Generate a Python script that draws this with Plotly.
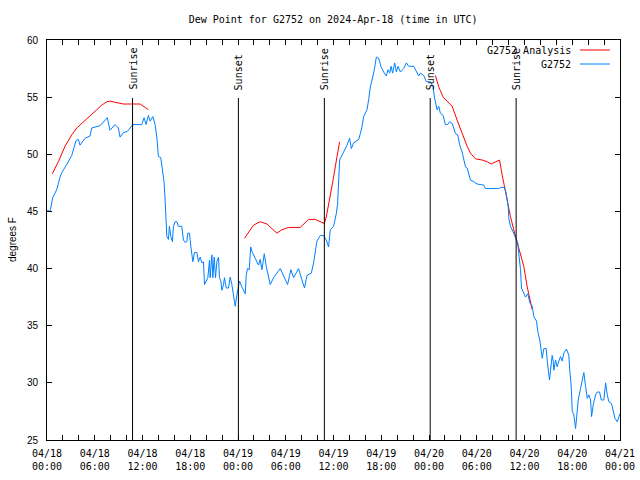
import pandas as pd
import plotly.graph_objects as go

# ---------------- data (hours since 2024-04-18 00:00 UTC, degrees F) ----------------
obs_hours = [0.04, 0.38, 0.72, 1.22, 1.64, 1.85, 2.48, 3.11, 3.65, 3.94, 4.15, 4.78, 5.41, 5.62,
             6.67, 7.08, 7.58, 7.92, 8.55, 8.97, 9.18, 9.60, 10.10, 10.78, 11.28, 11.91, 12.20,
             12.45, 12.74, 12.96, 13.30, 13.58, 13.80, 14.00, 14.30, 14.72, 14.84, 14.93, 15.06,
             15.26, 15.38, 15.56, 15.76, 15.89, 16.10, 16.31, 16.52, 16.94, 17.14, 17.36, 17.57,
             17.70, 17.90, 18.08, 18.20, 18.33, 18.53, 18.83, 19.03, 19.25, 19.46, 19.66, 19.79,
             20.00, 20.21, 20.42, 20.50, 20.72, 20.84, 21.01, 21.17, 21.35, 21.55, 21.67, 21.85,
             21.97, 22.18, 22.30, 22.52, 22.81, 23.02, 23.23, 23.43, 23.65, 23.86, 23.94, 24.19,
             24.49, 24.69, 24.91, 25.03, 25.19, 25.41, 25.60, 25.75, 26.16, 26.58, 26.79, 27.01,
             27.30, 27.55, 28.05, 28.47, 29.31, 29.72, 30.23, 30.48, 30.65, 30.98, 31.61, 32.04,
             32.36, 32.67, 33.21, 33.50, 33.71, 33.92, 34.34, 34.75, 35.09, 35.38, 35.60, 36.01,
             36.35, 36.52, 36.77, 37.07, 37.48, 37.70, 38.03, 38.24, 38.53, 39.16, 39.37, 39.58,
             39.79, 40.21, 40.42, 40.63, 40.84, 41.13, 41.38, 41.67, 41.97, 42.30, 42.64, 42.86,
             43.06, 43.23, 43.43, 43.69, 43.90, 44.11, 44.40, 44.82, 45.16, 45.45, 46.08, 46.42,
             46.70, 46.92, 47.33, 47.67, 48.18, 48.52, 48.68, 49.02, 49.22, 49.43, 49.77, 50.06,
             50.35, 50.60, 50.91, 51.11, 51.32, 51.61, 51.86, 52.16, 52.36, 52.58, 52.79, 52.99,
             53.21, 53.62, 54.05, 54.88, 55.09, 55.94, 56.35, 56.77, 56.98, 57.48, 57.70, 57.82,
             57.95, 58.03, 58.24, 58.58, 58.87, 59.16, 59.33, 59.50, 59.62, 59.91, 60.13, 60.42,
             60.67, 60.97, 61.17, 61.51, 61.67, 61.92, 62.10, 62.23, 62.43, 62.73, 62.86, 62.98,
             63.14, 63.27, 63.48, 63.61, 63.69, 63.90, 64.11, 64.31, 64.53, 64.74, 64.94, 65.28,
             65.57, 65.70, 65.87, 66.00, 66.20, 66.42, 66.54, 66.75, 67.04, 67.26, 67.46, 67.67,
             67.89, 68.09, 68.30, 68.43, 68.64, 68.93, 69.14, 69.43, 69.65, 69.97, 70.19, 70.40,
             70.60, 70.94, 71.16, 71.36, 71.66, 71.86, 71.99]
obs_dewpoint = [45.1, 45.0, 46.2, 46.9, 48.0, 48.4, 49.1, 49.9, 51.2, 51.3, 50.8, 51.4, 51.6, 52.3,
                52.5, 52.8, 53.2, 52.1, 52.6, 52.3, 51.5, 51.9, 52.0, 52.6, 52.6, 52.6, 53.2,
                52.6, 53.4, 52.9, 53.3, 52.6, 51.5, 49.8, 49.7, 47.5, 46.0, 43.95, 42.8,
                42.55, 43.7, 42.8, 42.35, 43.7, 44.1, 44.1, 43.7, 43.7, 42.5, 42.3, 42.35,
                43.1, 43.1, 41.9, 41.0, 40.6, 41.4, 41.4, 40.6, 41.0, 40.5, 40.6, 38.6,
                38.9, 39.2, 40.75, 39.2, 41.2, 39.2, 41.0, 39.2, 40.6, 41.0, 39.2, 38.9,
                38.1, 38.6, 39.2, 38.3, 38.3, 39.25, 38.6, 37.55, 36.7, 37.7, 38.1, 38.9,
                38.4, 38.1, 37.8, 39.4, 40.0, 39.9, 41.9, 41.5, 40.9, 40.3, 40.8, 39.9,
                41.3, 40.2, 38.6, 39.2, 40.0, 39.4, 38.6, 39.4, 39.9, 39.2, 40.0, 39.0,
                38.3, 39.4, 39.6, 40.5, 41.3, 42.4, 42.9, 42.9, 42.5, 41.9, 43.4, 43.7,
                44.8, 45.7, 49.5, 49.9, 50.4, 50.8, 51.4, 50.5, 51.0, 51.3, 51.8, 52.4,
                53.3, 53.9, 54.8, 55.9, 56.5, 57.4, 58.5, 58.4, 57.7, 57.2, 56.85, 57.4,
                57.1, 57.7, 57.1, 58.0, 57.2, 57.7, 57.2, 57.5, 58.0, 57.7, 57.7, 57.2,
                56.85, 57.1, 56.9, 56.35, 56.35, 55.9, 55.0, 53.9, 54.2, 53.6, 53.4, 52.6,
                52.6, 52.85, 52.7, 52.3, 51.8, 51.7, 50.8, 50.2, 49.65, 48.9, 48.8, 48.2,
                47.75, 47.6, 47.4, 47.3, 47.0, 47.0, 47.0, 47.0, 47.1, 47.1, 46.6, 46.0,
                45.4, 44.4, 43.7, 43.2, 42.65, 42.2, 41.0, 39.9, 38.3, 37.8, 37.5, 37.8,
                37.0, 36.7, 35.8, 35.4, 34.5, 33.75, 32.6, 32.15, 33.0, 33.0, 31.9, 31.0,
                30.25, 31.1, 32.4, 31.9, 31.1, 32.0, 31.4, 31.9, 32.3, 31.9, 32.6, 32.95,
                32.4, 31.0, 29.7, 27.5, 27.2, 26.0, 27.05, 28.5, 29.5, 30.25, 30.9, 29.7,
                28.65, 28.95, 28.5, 27.05, 28.1, 28.95, 29.2, 29.2, 28.5, 28.5, 30.0, 28.95,
                28.35, 28.2, 27.6, 26.9, 26.6, 27.2, 27.3]

ana1_hours = [0.67, 1.42, 2.26, 3.11, 3.74, 4.57, 5.41, 6.25, 6.88, 7.51, 7.92, 8.55, 9.60,
              10.65, 11.70, 12.33, 12.74]
ana1_dewpoint = [48.3, 49.35, 50.7, 51.7, 52.3, 52.85, 53.35, 53.9, 54.3, 54.6, 54.65, 54.55,
                 54.4, 54.4, 54.4, 54.1, 53.9]
ana2_hours = [24.82, 25.32, 25.95, 26.79, 27.64, 28.26, 28.89, 29.52, 30.35, 31.82, 32.45, 32.87,
              33.71, 34.34, 34.84, 35.09, 35.38, 36.01, 36.44, 36.77]
ana2_dewpoint = [42.65, 43.2, 43.8, 44.1, 43.9, 43.5, 43.1, 43.4, 43.6, 43.6, 44.0, 44.3,
                 44.3, 44.1, 43.95, 44.5, 45.5, 48.0, 49.8, 51.1]
ana3_hours = [48.81, 49.22, 49.77, 50.28, 50.91, 51.53, 52.16, 52.79, 53.21, 53.84, 54.68, 55.31,
              55.81, 56.35, 56.86, 57.19, 57.61, 57.90, 58.24, 58.65, 59.08, 59.50, 59.91,
              60.34, 60.67, 60.97]
ana3_dewpoint = [56.9, 55.9, 55.0, 54.6, 54.2, 53.0, 51.8, 50.7, 50.1, 49.6, 49.5, 49.35,
                 49.15, 49.35, 49.5, 48.2, 46.7, 45.7, 44.55, 43.4, 42.35, 41.3, 40.2,
                 38.4, 37.4, 36.4]

sun_event_hours = [10.75, 24.05, 34.85, 48.15, 58.95]
sun_event_labels = ["Sunrise", "Sunset", "Sunrise", "Sunset", "Sunrise"]

# ---------------- build ----------------
base = pd.Timestamp("2024-04-18 00:00")


def to_time(hours):
    return [base + pd.Timedelta(hours=h) for h in hours]


ana_x, ana_y = [], []
for hs, vs in [(ana1_hours, ana1_dewpoint), (ana2_hours, ana2_dewpoint), (ana3_hours, ana3_dewpoint)]:
    ana_x += to_time(hs) + [None]
    ana_y += vs + [None]

RED = "#ff0000"
BLUE = "#0080ff"
MONO = "DejaVu Sans Mono"
SANS = "Liberation Sans"

fig = go.Figure()
fig.add_trace(go.Scatter(x=ana_x, y=ana_y, mode="lines", name="G2752 Analysis",
                         line=dict(color=RED, width=1), connectgaps=False))
fig.add_trace(go.Scatter(x=to_time(obs_hours), y=obs_dewpoint, mode="lines", name="G2752",
                         line=dict(color=BLUE, width=1)))

for h, lab in zip(sun_event_hours, sun_event_labels):
    t = base + pd.Timedelta(hours=h)
    fig.add_shape(type="line", xref="x", yref="paper", x0=t, x1=t, y0=0, y1=0.855,
                  line=dict(color="black", width=1))
    fig.add_annotation(x=t, xref="x", y=0.87, yref="paper", text=lab, textangle=-90,
                       showarrow=False, xanchor="center", yanchor="bottom",
                       font=dict(family=MONO, size=10, color="black"))

# legend drawn gnuplot-style (text right-aligned, sample to the right)
for i, (name, col) in enumerate([("G2752 Analysis", RED), ("G2752", BLUE)]):
    yp = 0.975 - i * 0.035
    fig.add_annotation(x=0.918, xref="paper", y=yp, yref="paper", text=name, showarrow=False,
                       xanchor="right", yanchor="middle",
                       font=dict(family=MONO, size=10, color="black"))
    fig.add_shape(type="line", xref="paper", yref="paper", x0=0.930, x1=0.9825, y0=yp, y1=yp,
                  line=dict(color=col, width=1))

fig.add_annotation(x=-0.061, xref="paper", y=0.5, yref="paper", text="degrees F",
                   textangle=-90, showarrow=False, xanchor="center", yanchor="middle",
                   font=dict(family=SANS, size=10, color="black"))

fig.update_layout(
    width=640, height=480, autosize=False,
    margin=dict(l=47, r=20, t=40, b=40),
    paper_bgcolor="white", plot_bgcolor="white",
    showlegend=False,
    title=dict(text="Dew Point for G2752 on 2024-Apr-18 (time in UTC)", x=0.5205, xanchor="center",
               y=1 - 19 / 480, yanchor="middle", font=dict(family=MONO, size=10, color="black")),
)
fig.update_xaxes(
    type="date", automargin=False,
    range=[base, base + pd.Timedelta(hours=72)],
    tick0=base, dtick=6 * 3600 * 1000,
    tickformat="%m/%d<br>%H:%M",
    ticks="inside", ticklen=5, tickcolor="black",
    minor=dict(dtick=2 * 3600 * 1000, ticks="inside", ticklen=5, tickcolor="black", showgrid=False),
    showline=True, linecolor="black", linewidth=1, mirror="ticks",
    showgrid=False, zeroline=False,
    ticklabelstandoff=4,
    tickfont=dict(family=MONO, size=10, color="black"),
)
fig.update_yaxes(
    automargin=False,
    range=[25, 60], dtick=5, tick0=25,
    ticks="inside", ticklen=5, tickcolor="black",
    showline=True, linecolor="black", linewidth=1, mirror="ticks",
    showgrid=False, zeroline=False,
    ticklabelstandoff=6,
    tickfont=dict(family=SANS, size=10, color="black"),
)

fig.write_html("out.html", config={"responsive": False, "displayModeBar": False},
               default_width="640px", default_height="480px",
               post_script="document.body.style.margin='0';")
